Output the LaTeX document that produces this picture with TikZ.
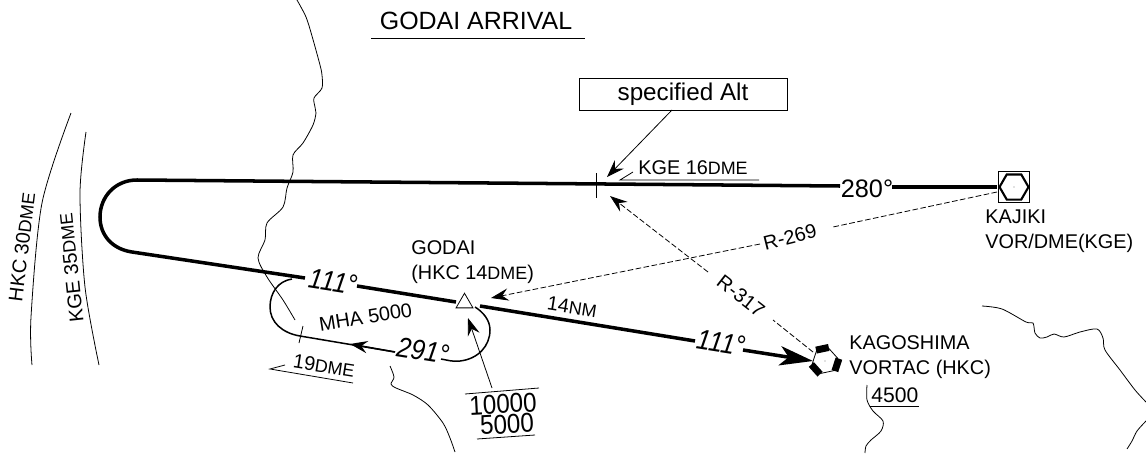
\documentclass[tikz,border=0pt]{standalone}
\usepackage{fontspec}
\setmainfont{Liberation Sans}
\usetikzlibrary{arrows.meta,shapes.geometric}
\newcommand{\smallcap}[1]{{\fontsize{10.2}{12}\selectfont #1}}
\newcommand{\tallnum}[1]{\scalebox{1}[1.12]{#1}}
\tikzset{
    bigtext/.style={font=\fontsize{13.8}{16}\selectfont, inner sep=0},
    labeltext/.style={font=\fontsize{11.3}{14.2}\selectfont, inner sep=0, align=left},
    headingtext/.style={font=\fontsize{14.4}{16}\selectfont\itshape, inner sep=0},
    thinline/.style={line width=0.45pt},
    coastline/.style={line width=0.45pt, smooth, tension=0.5},
    trackline/.style={line width=2pt},
    holdline/.style={line width=0.85pt},
    radial/.style={line width=0.45pt, dash pattern=on 3.2pt off 1.4pt},
    barb/.style={-{Stealth[length=10pt,width=7pt,inset=3.5pt]}}
}
\begin{document}
\begin{tikzpicture}[x=0.02cm,y=-0.02cm]
    \useasboundingbox (0,0) rectangle (1146,453);

    % Coast lines
    \draw[coastline] plot coordinates {(297,0) (306,17) (312,36) (320,65) (322,75) (322,88) (314,98) (315,107) (316,113) (313,125) (303,143) (293,155) (293,172) (287,188) (283,207) (267,223) (265,240) (258,258) (267,277) (283,300) (295,320)};
    \draw[coastline] plot coordinates {(390,366) (394,377) (391,384) (396,388) (413,395) (428,405) (443,423) (450,438) (455,452)};
    \draw[coastline] plot coordinates {(867,385) (867,400) (873,411) (883,421) (881,431) (871,440) (866,446) (865,453)};
    \draw[coastline] plot coordinates {(982,306) (1002,309) (1026,322) (1033,323) (1035,333) (1040,338) (1047,337) (1054,334) (1064,337) (1080,332) (1097,329) (1103,338) (1105,350) (1120,370) (1135,390) (1146,402)};
    \draw[coastline] plot coordinates {(1146,421) (1137,431) (1132,441) (1127,449)};

    % DME arcs
    \draw[thinline] plot[smooth] coordinates {(71,113) (42,203) (31,317) (32,365)};
    \draw[thinline] plot[smooth] coordinates {(86,132) (80,193) (85,287) (99,365)};
    \node[labeltext, rotate=83] (hkcarc) at (22,247) {HKC 30\smallcap{DME}};
    \node[labeltext, rotate=96] (kgearc) at (71,268) {KGE 35\smallcap{DME}};

    % Title and note box
    \node[bigtext, font=\fontsize{14.2}{16}\selectfont] (title) at (476,21) {GODAI ARRIVAL};
    \draw[thinline] (371,38) -- (585,38);
    \node[bigtext, draw, thinline, minimum width=0.02cm*208, minimum height=0.02cm*32] (altbox) at (683,94) {specified Alt};

    % Stations
    \node[draw, thinline, regular polygon, regular polygon sides=3, minimum size=0.39cm, inner sep=0] (godai) at (464.5,303) {};
    \node[draw, thinline, minimum size=0.62cm, inner sep=0] (kajikibox) at (1014,187) {};
    \node[draw, line width=1.2pt, regular polygon, regular polygon sides=6, minimum size=0.58cm, inner sep=0] (kajiki) at (1014,187) {};
    \node[draw, thinline, regular polygon, regular polygon sides=6, shape border rotate=12, minimum size=0.52cm, inner sep=0] (kagoshima) at (825,361) {};
    \foreach \a in {102,222,342}
        \fill[shift={(kagoshima)}, rotate=\a] (9,-6.5) rectangle (16,6.5);
    \fill[gray] (kajiki) circle (0.4pt);
    \fill[gray] (kagoshima) circle (0.4pt);

    % Track coordinates
    \coordinate (trackeast) at (997,187);
    \coordinate (gapeast) at (892,187);
    \coordinate (gapwest) at (840,186);
    \coordinate (turntop) at (137,180);
    \coordinate (turnleft) at (100,217);
    \coordinate (turnlow) at (132,252);
    \coordinate (inwest) at (305,278);
    \coordinate (ineast) at (357,286);
    \coordinate (godaiwest) at (456,302);
    \coordinate (godaieast) at (480,306);
    \coordinate (outwest) at (695,341);
    \coordinate (outeast) at (743,350);
    \coordinate (vortactip) at (813,361);

    % Main track
    \draw[trackline] (trackeast) -- (gapeast);
    \draw[trackline] (gapwest) -- (turntop) .. controls (115,180) and (100,197) .. (turnleft) .. controls (100,235) and (112,249) .. (turnlow) -- (inwest);
    \draw[trackline] (ineast) -- (godaiwest);
    \draw[trackline] (godaieast) -- (outwest);
    \draw[trackline, -{Stealth[length=19pt,width=11pt,inset=5pt]}] (outeast) -- (vortactip);
    \node[bigtext, font=\fontsize{14.4}{16}\selectfont] (hdgback) at (867,189) {280°};
    \node[headingtext, rotate=-9] (hdgin) at (333,282) {\tallnum{111°}};
    \node[headingtext, rotate=-9] (hdgout) at (721,343) {\tallnum{111°}};
    \node[labeltext, rotate=-9] (leg) at (572,307) {14\smallcap{NM}};

    % Holding pattern
    \coordinate (holdtop) at (292,279);
    \coordinate (holdleft) at (270,307);
    \coordinate (holdlow) at (300,336);
    \coordinate (holdgap) at (395,352);
    \coordinate (holdarrow) at (350,344);
    \coordinate (holdback) at (441,359);
    \coordinate (holdbottom) at (460,361);
    \coordinate (holdright) at (490,330);
    \coordinate (holdend) at (475,307);
    \draw[holdline] (holdtop) .. controls (278,281) and (270,293) .. (holdleft) .. controls (270,322) and (282,333) .. (holdlow) -- (holdgap);
    \draw[holdline, barb] (holdgap) -- (holdarrow);
    \draw[holdline] (holdback) .. controls (447,360) and (453,362) .. (holdbottom) .. controls (478,359) and (490,346) .. (holdright) .. controls (490,320) and (483,312) .. (holdend);
    \node[headingtext, rotate=-9] (hdghold) at (423,351) {\tallnum{291°}};
    \node[labeltext, rotate=9] (mha) at (365.5,317) {MHA 5000};

    % 19 DME fix
    \draw[thinline] (303,326) -- (299,343);
    \node[labeltext, rotate=-9] (dmenineteen) at (324,366) {19\smallcap{DME}};
    \draw[thinline] (285,365) -- (270,369) -- (353,383);

    % KGE 16 DME fix
    \draw[thinline] (596,173) -- (596,198);
    \node[labeltext] (dmesixteen) at (693,168) {KGE 16\smallcap{DME}};
    \draw[thinline] (633,172) -- (620,180) -- (759,180);

    % Radials
    \coordinate (kajikiout) at (997,192);
    \coordinate (rtwowest) at (760,244);
    \coordinate (rtwoeast) at (833,227);
    \coordinate (rtwotip) at (491,298);
    \coordinate (rthreesouth) at (813,352);
    \coordinate (rthreelow) at (773,320);
    \coordinate (rthreehigh) at (708,272);
    \coordinate (rthreetip) at (610,196);
    \draw[radial] (kajikiout) -- (rtwoeast);
    \draw[radial, barb] (rtwowest) -- (rtwotip);
    \draw[radial] (rthreesouth) -- (rthreelow);
    \draw[radial, barb] (rthreehigh) -- (rthreetip);
    \node[labeltext, rotate=14] (rtwo) at (790,237) {R-269};
    \node[labeltext, rotate=-38] (rthree) at (741,296) {R-317};

    % Pointers
    \coordinate (altend) at (607,177);
    \coordinate (altstart) at (672,110);
    \draw[thinline, barb] (altstart) -- (altend);
    \coordinate (limitstart) at (492,388);
    \coordinate (limitend) at (468,318);
    \draw[thinline, barb] (limitstart) -- (limitend);

    % Altitude limits
    \draw[thinline] (465,394) -- (539,388);
    \node[bigtext, rotate=3] (limithigh) at (503,404) {\tallnum{10000}};
    \node[bigtext, rotate=3] (limitlow) at (507,424) {\tallnum{5000}};
    \draw[thinline] (477,439) -- (535,435);

    % Station names
    \node[labeltext, anchor=west] (godainame) at (411,262.5) {GODAI\\(HKC 14\smallcap{DME})};
    \node[labeltext, anchor=west] (kajikiname) at (985,231) {KAJIKI\\VOR/DME(KGE)};
    \node[labeltext, anchor=west] (kagoname) at (849,357.5) {KAGOSHIMA\\VORTAC (HKC)};
    \node[labeltext, font=\fontsize{12}{14}\selectfont, anchor=west] (mea) at (871,395) {4500};
    \draw[thinline] (870,406) -- (919,406);
\end{tikzpicture}
\end{document}
